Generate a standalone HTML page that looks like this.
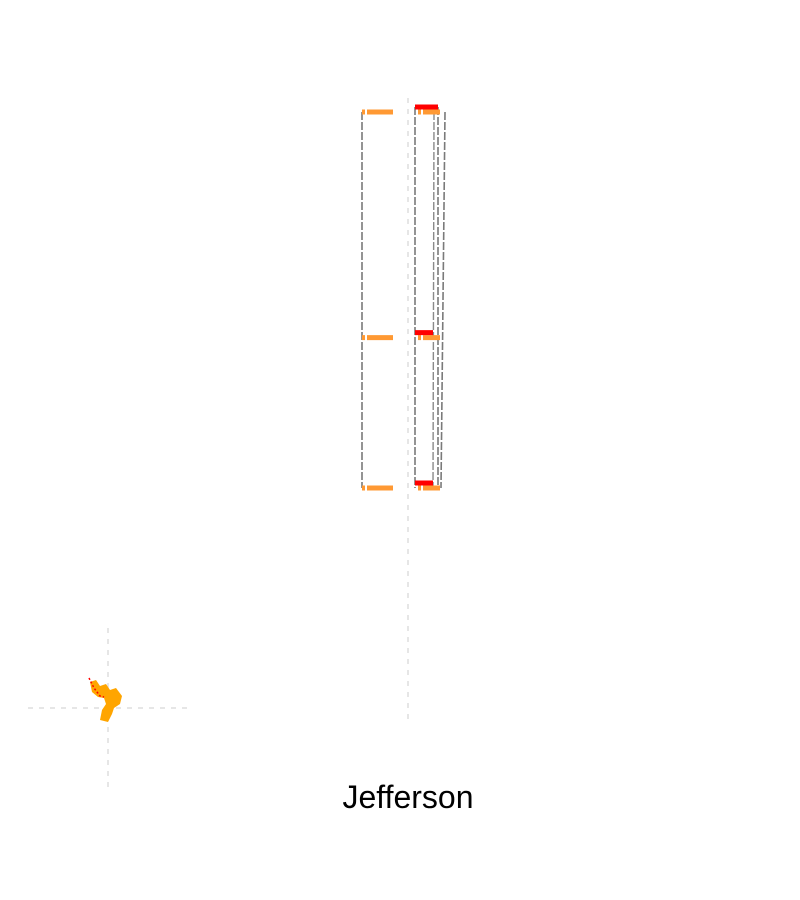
<!DOCTYPE html>
<html><head><meta charset="utf-8"><style>
html,body{margin:0;padding:0;background:#fff;width:800px;height:900px;overflow:hidden}
svg{display:block}
text{font-family:"Liberation Sans",sans-serif}
</style></head><body>
<svg id="c" width="800" height="900">
<line x1="408" y1="98" x2="408" y2="722" stroke="#ddd" stroke-width="1.5" stroke-dasharray="5,6"/>
<g id="marks"></g>
<g>
<line x1="108" y1="628" x2="108" y2="788" stroke="#ddd" stroke-width="1.5" stroke-dasharray="5,6"/>
<line x1="28" y1="708" x2="188" y2="708" stroke="#ddd" stroke-width="1.5" stroke-dasharray="5,6"/>
<polygon points="90,682 96,680 100,686 106,684 110,690 116,688 122,696 120,704 114,708 112,714 108,722 100,720 102,710 106,704 104,698 98,697 92,692" fill="#ffa500"/>
<polyline points="89,678 94,688 100,696 104,697" fill="none" stroke="#f00" stroke-width="1.5" stroke-dasharray="2,2"/>
</g>
<text x="408" y="808" text-anchor="middle" font-size="32" fill="#000">Jefferson</text>
</svg>
<script>
const levels = [0, 0.6, 1.0];
const redLevels = [0, 0.6, 1.0];
const leftStart = 0, leftEnd = 1.0;
function y(v){ return 112 + v * 376; }
function yRed(v){ return 107 + v * 376; }
const g = document.getElementById('marks');
const NS = 'http://www.w3.org/2000/svg';
function line(x1,y1,x2,y2,stroke,w,dash,name){
  const l = document.createElementNS(NS,'line');
  l.setAttribute('x1',x1);l.setAttribute('y1',y1);l.setAttribute('x2',x2);l.setAttribute('y2',y2);
  l.setAttribute('stroke',stroke);l.setAttribute('stroke-width',w);
  if(dash) l.setAttribute('stroke-dasharray',dash);
  
  
  g.appendChild(l);
}
line(362,y(leftStart),362,y(leftEnd),'#7a7a7a',1.6,'8,2','left-dashed-edge');
line(415,yRed(0),415,y(leftEnd),'#7a7a7a',1.6,'8,2','right-dashed-edge-a');
line(438,yRed(0),438,y(leftEnd),'#7a7a7a',1.6,'8,2','right-dashed-edge-b');
line(434,y(0),433,y(leftEnd),'#8a8a8a',1.4,'8,2','right-dashed-edge-c');
line(445,y(0),441,y(leftEnd),'#7a7a7a',1.6,'8,2','right-dashed-edge-d');
levels.forEach((v,i)=>{
  line(362,y(v),365,y(v),'#ff9933',5,null,'left-tick-'+i);
  line(367,y(v),393,y(v),'#ff9933',5,null,'left-bar-'+i);
  line(418,y(v),421,y(v),'#ff9933',5,null,'right-tick-'+i);
  line(423,y(v),440,y(v),'#ff9933',5,null,'right-bar-'+i);
});
redLevels.forEach((v,i)=>{
  line(415,yRed(v),i===0?438:433,yRed(v),'#ff0000',5,null,'red-bar-'+i);
});
</script>
</body></html>
